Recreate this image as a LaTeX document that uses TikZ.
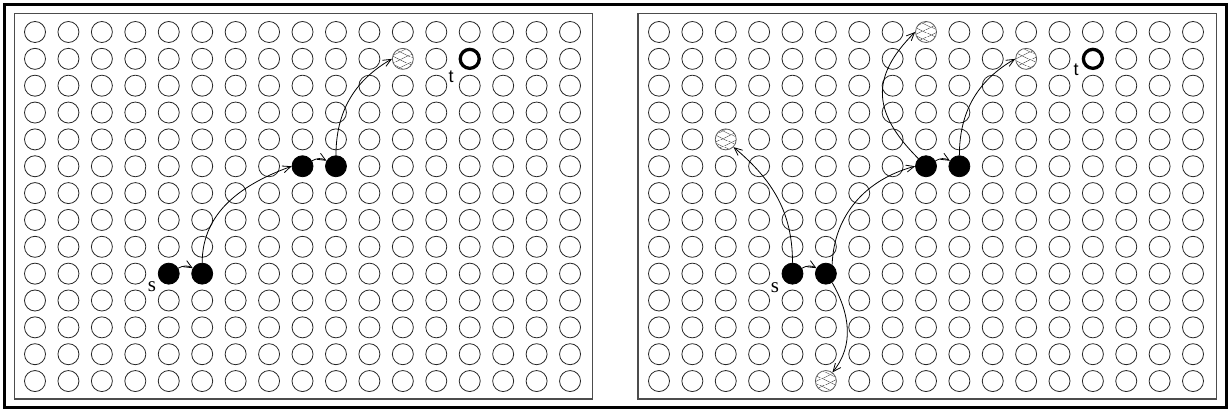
\documentclass[tikz,border=0pt]{standalone}
\usepackage{fontspec}
\newfontfamily\serifLS{Liberation Serif}
\newfontfamily\sansLS{Liberation Sans}
\usetikzlibrary{arrows.meta,patterns.meta}
\begin{document}
\begin{tikzpicture}[x=1pt,y=1pt,
  dot/.style={circle, draw=black!85, line width=0.8pt, minimum size=21pt, inner sep=0pt},
  blk/.style={dot, fill=black, draw=black},
  hatch/.style={dot, draw=black!65, pattern={Lines[angle=25,distance=6.5pt,line width=0.7pt]}, pattern color=black!60,
    postaction={pattern={Lines[angle=-25,distance=6.5pt,line width=0.7pt]}, pattern color=black!60}},
  goal/.style={circle, draw=black, line width=3.3pt, minimum size=19pt, inner sep=0pt},
  edge/.style={line width=0.8pt, -{Straight Barb[length=8pt,width=7pt]}},
  panel/.style={draw=black!70, line width=1.2pt},
  frame/.style={draw=black, line width=3pt},
  lbls/.style={font=\serifLS\fontsize{21}{21}\selectfont, inner sep=0pt},
  lblt/.style={font=\sansLS\fontsize{18}{18}\selectfont, inner sep=0pt}]
\useasboundingbox (0,0) rectangle (1231,412);
\draw[frame] (4.5,4.5) rectangle (1226.5,407.5);
\draw[panel] (14.5,13) rectangle (592.5,398.5);
\draw[panel] (638,13) rectangle (1216.5,398.5);
% positions taken by special nodes
\foreach \p in {L-4-9,L-5-9,L-8-5,L-9-5,L-11-1,L-13-1,R-4-9,R-5-9,R-8-5,R-9-5,R-2-4,R-8-0,R-11-1,R-13-1,R-5-13}
  {\expandafter\gdef\csname skip\p\endcsname{}}
\foreach \c in {0,...,16}{
  \foreach \r in {0,...,13}{
    \ifcsname skipL-\c-\r\endcsname\else
      \node[dot] (L-\c-\r) at ({35+\c*33.44},{380-\r*26.85}) {};
    \fi
    \ifcsname skipR-\c-\r\endcsname\else
      \node[dot] (R-\c-\r) at ({659+\c*33.375},{380-\r*26.85}) {};
    \fi
  }
}
% left panel special nodes
\node[blk] (L-4-9) at (168.76,138.35) {};
\node[blk] (L-5-9) at (202.2,138.35) {};
\node[blk] (L-8-5) at (302.52,245.75) {};
\node[blk] (L-9-5) at (335.96,245.75) {};
\node[hatch] (L-11-1) at (402.84,353.15) {};
\node[goal] (L-13-1) at (469.72,353.15) {};
\node[lbls] (sL) at (152,125) {s};
\node[lblt] (tL) at (451,335) {t};
% right panel special nodes
\node[blk] (R-4-9) at (792.5,138.35) {};
\node[blk] (R-5-9) at (825.875,138.35) {};
\node[blk] (R-8-5) at (926,245.75) {};
\node[blk] (R-9-5) at (959.375,245.75) {};
\node[hatch] (R-2-4) at (725.75,272.6) {};
\node[hatch] (R-8-0) at (926,380) {};
\node[hatch] (R-11-1) at (1026.125,353.15) {};
\node[hatch] (R-5-13) at (825.875,30.95) {};
\node[goal] (R-13-1) at (1092.875,353.15) {};
\node[lbls] (sR) at (775,124) {s};
\node[lblt] (tR) at (1076,342) {t};
% left edges
\draw[edge] (L-4-9) to[bend left=30] (L-5-9);
\draw[edge] (L-5-9.north) to[out=90,in=200] (L-8-5.west);
\draw[edge] (L-8-5) to[bend left=30] (L-9-5);
\draw[edge] (L-9-5.north) to[out=90,in=210] (L-11-1.west);
% right edges
\draw[edge] (R-4-9) to[bend left=30] (R-5-9);
\draw[edge] (R-4-9.north) to[out=90,in=-40] (R-2-4.-45);
\draw[edge] (R-5-9.55) to[out=88,in=195] (R-8-5.west);
\draw[edge] (R-8-5) to[bend left=30] (R-9-5);
\draw[edge] (R-8-5.135) to[out=135,in=225,looseness=1.3] (R-8-0.west);
\draw[edge] (R-9-5.north) to[out=90,in=210] (R-11-1.west);
\draw[edge] (R-5-9.-55) to[out=-60,in=51] (R-5-13.53);
\end{tikzpicture}
\end{document}
